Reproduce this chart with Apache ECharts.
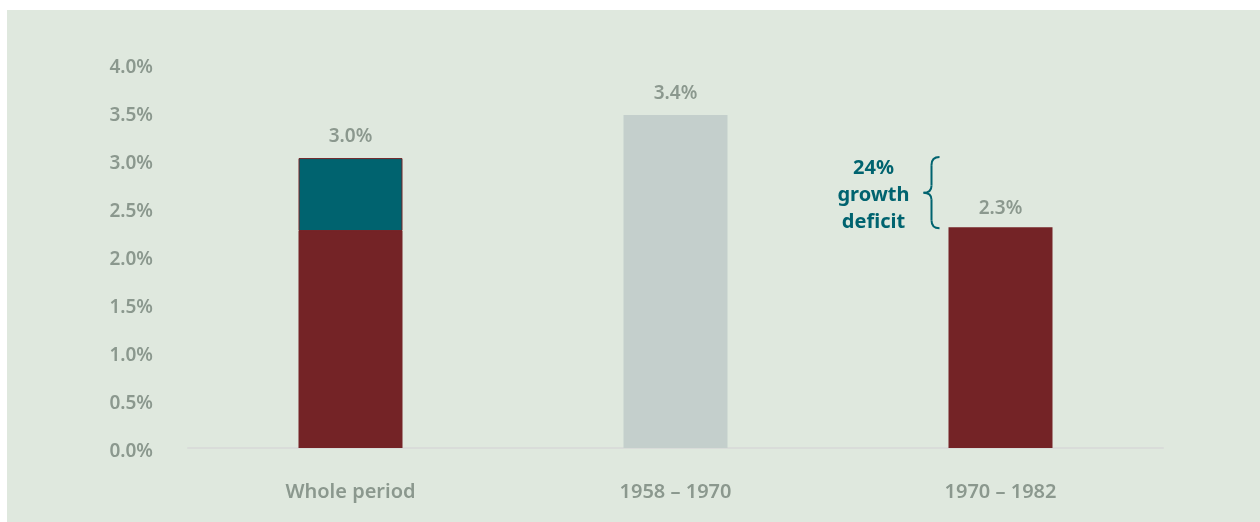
<!DOCTYPE html>
<html><head><meta charset="utf-8">
<script src="https://cdn.jsdelivr.net/npm/echarts@6/dist/echarts.min.js"></script>
<style>
html,body{margin:0;padding:0;background:#fff;width:1260px;height:522px;overflow:hidden}
#panel{position:absolute;left:7px;top:10px;width:1253px;height:512px;background:#dfe8de}
#c{width:1253px;height:512px}
</style></head><body>
<div id="panel"><div id="c"></div></div>
<script>
const categories = ['Whole period', '1958 – 1970', '1970 – 1982'];
const baseValues = [2.26, null, 2.30];      // red part
const extraValues = [0.76, null, null];      // teal part
const midValues = [null, 3.47, null];        // grey bar
const totalLabels = ['3.0%', '3.4%', '2.3%'];
const yTicks = [0, 0.5, 1, 1.5, 2, 2.5, 3, 3.5, 4];
const annotationText = '24%\ngrowth\ndeficit';

const FONT = '"Noto Sans", "Open Sans", sans-serif';
const GREY = '#8b988e';
const RED = '#742326';
const TEAL = '#00636f';
const LIGHT = '#c4cfcc';

const chart = echarts.init(document.getElementById('c'));
const labelCommon = {show: true, position: 'top', distance: 12, color: GREY, fontFamily: FONT, fontWeight: 600, fontSize: 19};
chart.setOption({
  animation: false,
  grid: {left: 181, right: 97, top: 54, bottom: 74},
  xAxis: {
    type: 'category', data: categories,
    axisLine: {lineStyle: {color: '#d9dcd9', width: 2}},
    axisTick: {show: false},
    axisLabel: {color: GREY, fontFamily: FONT, fontWeight: 600, fontSize: 20, margin: 34}
  },
  yAxis: {
    type: 'value', min: yTicks[0], max: yTicks[yTicks.length - 1], interval: yTicks[1] - yTicks[0],
    axisLine: {show: false}, axisTick: {show: false}, splitLine: {show: false},
    axisLabel: {margin: 35, formatter: v => '{t|' + v.toFixed(1) + '%}',
      rich: {t: {color: GREY, fontFamily: FONT, fontWeight: 600, fontSize: 19, padding: [8, 0, 0, 0]}}}
  },
  series: [
    {type: 'bar', stack: 's', barWidth: 104, data: baseValues, itemStyle: {color: RED},
      label: Object.assign({}, labelCommon, {distance: 9, formatter: p => p.dataIndex === 2 ? totalLabels[2] : ''})},
    {type: 'bar', stack: 's', data: extraValues, itemStyle: {color: TEAL, borderColor: RED, borderWidth: 1},
      label: Object.assign({}, labelCommon, {formatter: p => totalLabels[p.dataIndex]})},
    {type: 'bar', stack: 's', data: midValues, itemStyle: {color: LIGHT},
      label: Object.assign({}, labelCommon, {formatter: p => totalLabels[p.dataIndex]})}
  ]
});

// annotation placed relative to the third category via the chart's scales
const cx = chart.convertToPixel({xAxisIndex: 0}, categories[2]);
const yTop = chart.convertToPixel({yAxisIndex: 0}, 3.03);
const yBot = chart.convertToPixel({yAxisIndex: 0}, 2.29);
const yMid = (yTop + yBot) / 2;
const R = cx - 61, T = cx - 77, X = R - 8;
const braceStyle = {fill: null, stroke: TEAL, lineWidth: 2};
chart.setOption({
  graphic: [
    {type: 'bezierCurve', shape: {x1: R, y1: yTop, cpx1: X, cpy1: yTop, x2: X, y2: yTop + 8}, style: braceStyle},
    {type: 'line', shape: {x1: X, y1: yTop + 8, x2: X, y2: yMid - 7}, style: braceStyle},
    {type: 'bezierCurve', shape: {x1: X, y1: yMid - 7, cpx1: X, cpy1: yMid, x2: T, y2: yMid}, style: braceStyle},
    {type: 'bezierCurve', shape: {x1: T, y1: yMid, cpx1: X, cpy1: yMid, x2: X, y2: yMid + 7}, style: braceStyle},
    {type: 'line', shape: {x1: X, y1: yMid + 7, x2: X, y2: yBot - 8}, style: braceStyle},
    {type: 'bezierCurve', shape: {x1: X, y1: yBot - 8, cpx1: X, cpy1: yBot, x2: R, y2: yBot}, style: braceStyle},
    {type: 'text', x: cx - 127, y: yMid + 3, style: {text: annotationText, fill: TEAL, font: '700 20px ' + FONT,
      align: 'center', verticalAlign: 'middle', lineHeight: 27}}
  ]
});
</script></body></html>
